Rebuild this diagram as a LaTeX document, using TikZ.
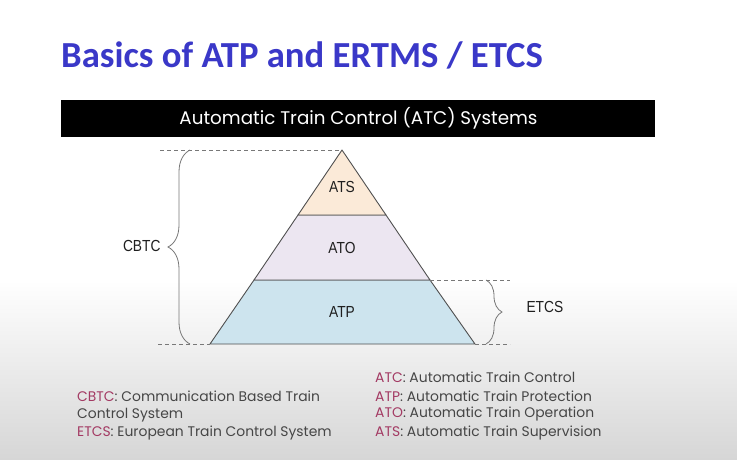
\documentclass[tikz,border=0pt]{standalone}
\usepackage{fontspec}
\setmainfont{Liberation Sans}
\newfontfamily\titlefont{Carlito}
\newfontfamily\roundfont{Poppins}
\newfontfamily\condfont[FakeStretch=0.86]{Liberation Sans}
\usetikzlibrary{decorations.pathreplacing}
\definecolor{titleblue}{RGB}{58,56,200}
\definecolor{abbr}{RGB}{163,58,99}
\definecolor{legendgray}{RGB}{70,70,70}
\definecolor{atsfill}{RGB}{251,234,216}
\definecolor{atofill}{RGB}{236,230,241}
\definecolor{atpfill}{RGB}{205,228,238}
\definecolor{edge}{RGB}{80,80,80}
\definecolor{guide}{RGB}{120,120,120}
\newcommand{\abbrev}[1]{\textcolor{abbr}{#1}}
\begin{document}
\begin{tikzpicture}[x=1pt,y=-1pt,
  layer/.style={draw=edge,line width=0.9pt,line join=round},
  guideline/.style={draw=guide,dashed,dash pattern=on 4pt off 3pt,line width=0.7pt},
  bracestyle/.style={draw=guide,line width=0.8pt,decorate,decoration={brace,amplitude=#1}},
  layerlabel/.style={font=\condfont\fontsize{16}{18}\selectfont,text=black!88},
  sidelabel/.style={font=\condfont\fontsize{16}{18}\selectfont,text=black!88},
  legend/.style={anchor=west,inner sep=0pt,font=\roundfont\fontsize{13.9}{16}\selectfont,text=legendgray}]
% page and soft grey fade towards the bottom
\useasboundingbox (0,0) rectangle (737,459);
\fill[white] (0,0) rectangle (737,459);
\shade[top color=white,bottom color=black!16] (0,280) rectangle (737,459);

% title
\node[anchor=west,inner sep=0pt,font=\titlefont\bfseries\fontsize{36.7}{40}\selectfont,text=titleblue] (title) at (61,55) {Basics of ATP and ERTMS / ETCS};

% header bar
\fill[black] (61,100) rectangle (655,137);
\node[font=\roundfont\fontsize{18.3}{20}\selectfont,text=white,inner sep=0pt] (header) at (358.5,118.5) {Automatic Train Control (ATC) Systems};

% pyramid corners and layer boundaries
\coordinate (apex) at (342,150);
\coordinate (bl) at (210,344);
\coordinate (br) at (475,344);
\coordinate (sL) at (298,215);
\coordinate (sR) at (386,215);
\coordinate (oL) at (254,280);
\coordinate (oR) at (430,280);

\filldraw[layer,fill=atpfill] (oL) -- (oR) -- (br) -- (bl) -- cycle;
\filldraw[layer,fill=atofill] (sL) -- (sR) -- (oR) -- (oL) -- cycle;
\filldraw[layer,fill=atsfill] (apex) -- (sR) -- (sL) -- cycle;

\node[layerlabel] (ats) at (342,187) {ATS};
\node[layerlabel] (ato) at (342,248) {ATO};
\node[layerlabel] (atp) at (342,312) {ATP};

% dashed guide lines
\coordinate (topL) at (160,150);
\coordinate (botL) at (158,344);
\coordinate (botR) at (510,344);
\coordinate (midR) at (510,280);
\draw[guideline] (topL) -- (apex);
\draw[guideline] (botL) -- (bl);
\draw[guideline] (br) -- (botR);
\draw[guideline] (oR) -- (midR);

% braces
\coordinate (cbA) at (190,344);
\coordinate (cbB) at (190,150);
\coordinate (etA) at (486,280);
\coordinate (etB) at (486,344);
\draw[bracestyle=22pt] (cbA) -- (cbB);
\draw[bracestyle=16pt] (etA) -- (etB);
\node[sidelabel,anchor=east] (cbtc) at (164,246) {CBTC};
\node[sidelabel,anchor=west] (etcs) at (523,307) {ETCS};

% legend
\node[legend] (lg1) at (77,396) {\abbrev{CBTC}: Communication Based Train};
\node[legend] (lg2) at (77,415) {Control System};
\node[legend] (lg3) at (77,433) {\abbrev{ETCS}: European Train Control System};
\node[legend] (lg4) at (375,377) {\abbrev{ATC}: Automatic Train Control};
\node[legend] (lg5) at (375,396) {\abbrev{ATP}: Automatic Train Protection};
\node[legend] (lg6) at (375,414) {\abbrev{ATO}: Automatic Train Operation};
\node[legend] (lg7) at (375,433) {\abbrev{ATS}: Automatic Train Supervision};
\end{tikzpicture}
\end{document}
